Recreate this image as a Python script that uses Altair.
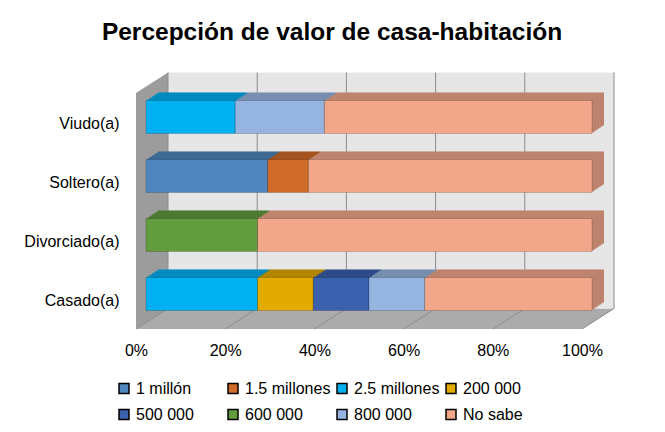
import altair as alt
import pandas as pd

# ---- data ----
categories = ["Casado(a)", "Divorciado(a)", "Soltero(a)", "Viudo(a)"]
series = ["1 millón", "1.5 millones", "2.5 millones", "200 000",
          "500 000", "600 000", "800 000", "No sabe"]
v_1_millon = [0, 0, 27.3, 0]
v_1_5_millones = [0, 0, 9.1, 0]
v_2_5_millones = [25, 0, 0, 20]
v_200_000 = [12.5, 0, 0, 0]
v_500_000 = [12.5, 0, 0, 0]
v_600_000 = [0, 25, 0, 0]
v_800_000 = [12.5, 0, 0, 20]
v_no_sabe = [37.5, 75, 63.6, 60]
tick_values = [0, 20, 40, 60, 80, 100]

colors = ["#4F86BD", "#D06A2A", "#00B0F0", "#E3AA00",
          "#3A61AD", "#629C3E", "#95B5E0", "#F2A78B"]

all_values = [v_1_millon, v_1_5_millones, v_2_5_millones, v_200_000,
              v_500_000, v_600_000, v_800_000, v_no_sabe]
rows = []
for si, (s, vals) in enumerate(zip(series, all_values)):
    for c, v in zip(categories, vals):
        if v > 0:
            rows.append({"cat": c, "serie": s, "val": v, "idx": si})
df = pd.DataFrame(rows)
ticks = pd.DataFrame({"t": tick_values})

W, H = 446, 236
FONT = "Liberation Sans"

# 3D geometry (pixel offsets relative to the bars' front plane)
BACK_DX, BACK_DY = 22, -15
FRONT_DX, FRONT_DY = -10, 5.5
BAR_DX, BAR_DY = 12, -8
STEPS = 8

xs = alt.Scale(domain=[0, 100], nice=False, zero=False)
y_order = ["Viudo(a)", "Soltero(a)", "Divorciado(a)", "Casado(a)"]
ys = alt.Scale(domain=y_order, paddingInner=0.44, paddingOuter=0.22)
cs = alt.Scale(domain=series, range=colors)

legend = alt.Legend(orient="none", legendX=-30, legendY=293,
                    columns=4, direction="horizontal",
                    gridAlign="all", symbolType="square",
                    symbolSize=100, labelFontSize=16,
                    labelFont=FONT, labelColor="#000000",
                    columnPadding=3, rowPadding=10,
                    padding=0, labelOffset=4, title=None)

# walls
left_wall = alt.Chart(pd.DataFrame({
    "x": [FRONT_DX, BACK_DX], "y": [FRONT_DY, BACK_DY],
    "y2": [H + FRONT_DY, H + BACK_DY]})).mark_area(
    orient="vertical", color="#9C9C9C").encode(
    x=alt.X("x:Q", scale=None, axis=None),
    y=alt.Y("y:Q", scale=None, axis=None), y2="y2:Q")

floor = alt.Chart(pd.DataFrame({
    "y": [H + FRONT_DY, H + BACK_DY], "x": [FRONT_DX, BACK_DX],
    "x2": [W + FRONT_DX, W + BACK_DX]})).mark_area(
    orient="horizontal", color="#ABABAB").encode(
    y=alt.Y("y:Q", scale=None, axis=None),
    x=alt.X("x:Q", scale=None, axis=None), x2="x2:Q")

back_wall = alt.Chart(pd.DataFrame({"a": [0]})).mark_rect(
    color="#E6E6E6").encode(
    x=alt.value(BACK_DX), x2=alt.value(W + BACK_DX),
    y=alt.value(BACK_DY), y2=alt.value(H + BACK_DY))

back_grid = alt.Chart(ticks).mark_rule(
    color="#8C8C8C", strokeWidth=1, xOffset=BACK_DX, x2Offset=BACK_DX).encode(
    x=alt.X("t:Q", scale=xs, axis=None),
    y=alt.value(BACK_DY), y2=alt.value(H + BACK_DY))

floor_grid = alt.Chart(ticks).mark_rule(
    color="#8C8C8C", strokeWidth=1, xOffset=FRONT_DX, x2Offset=BACK_DX).encode(
    x=alt.X("t:Q", scale=xs, axis=None), x2="t:Q",
    y=alt.value(H + FRONT_DY), y2=alt.value(H + BACK_DY))

enc = dict(
    y=alt.Y("cat:N", scale=ys, axis=None),
    x=alt.X("val:Q", scale=xs, stack="zero", axis=None),
    order=alt.Order("idx:Q"),
)

depth_layers = []
for k in range(STEPS, 0, -1):
    dx = BAR_DX * k / STEPS
    dy = BAR_DY * k / STEPS
    depth_layers.append(alt.Chart(df).mark_bar(
        xOffset=dx, x2Offset=dx, yOffset=dy, y2Offset=dy).encode(
        color=alt.Color("serie:N", scale=cs, legend=legend), **enc))
    depth_layers.append(alt.Chart(df).mark_bar(
        xOffset=dx, x2Offset=dx, yOffset=dy, y2Offset=dy,
        color="black", opacity=0.22).encode(**enc))

bar_front = alt.Chart(df).mark_bar(
    stroke="black", strokeOpacity=0.18, strokeWidth=1).encode(
    y=alt.Y("cat:N", scale=ys, title=None,
            axis=alt.Axis(labelOffset=7, offset=20, labelPadding=7,
                          domain=False, ticks=False, labelFontSize=16,
                          labelFont=FONT, labelColor="#000000")),
    x=alt.X("val:Q", scale=xs, stack="zero", title=None,
            axis=alt.Axis(values=tick_values, labelExpr="datum.value + '%'",
                          offset=6, labelPadding=13, labelOffset=-10,
                          labelFlush=False,
                          domain=False, ticks=False, grid=False,
                          labelFontSize=16, labelFont=FONT,
                          labelColor="#000000")),
    order=alt.Order("idx:Q"),
    color=alt.Color("serie:N", scale=cs, legend=legend),
)

chart = alt.layer(
    left_wall, floor, back_wall, back_grid, floor_grid,
    *depth_layers, bar_front,
).resolve_scale(x="independent", y="independent").properties(
    width=W, height=H,
    title=alt.TitleParams("Percepción de valor de casa-habitación",
                          fontSize=24.5, font=FONT, fontWeight="bold",
                          anchor="middle", dx=-37, offset=27,
                          color="#000000"),
    autosize="none",
    padding={"left": 138, "top": 79.5, "right": 65, "bottom": 100.5},
).configure_view(stroke=None)

chart.save("out.html", embed_options={"renderer": "svg", "actions": False})
